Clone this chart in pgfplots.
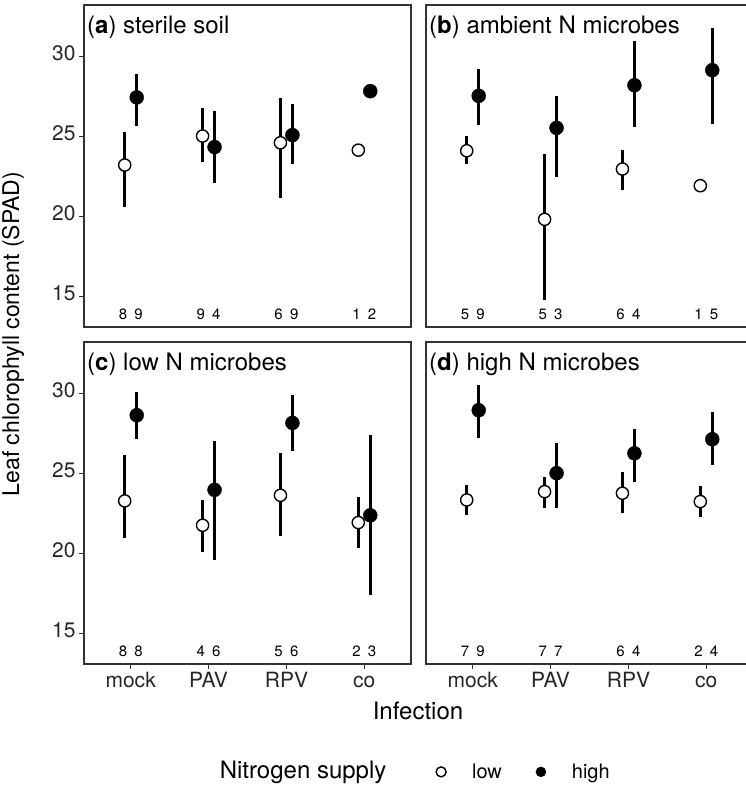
\documentclass[border=0pt]{standalone}
\usepackage{fontspec}
\setmainfont{TeX Gyre Heros}
\usepackage{pgfplots}
\usepackage{pgfplotstable}
\pgfplotsset{compat=1.18}
\definecolor{frame}{gray}{0.2}
\newcommand\fs[1]{\fontsize{#1}{#1}\selectfont}

% columns: x = infection (1 mock, 2 PAV, 3 RPV, 4 co), y = mean, lo/hi = interval
\pgfplotstableread{
x y lo hi
1 23.21 20.57 25.25
2 25.02 23.42 26.74
3 24.60 21.13 27.40
4 24.14 24.14 24.14
}\Alow
\pgfplotstableread{
x y lo hi
1 27.43 25.64 28.92
2 24.33 22.11 26.57
3 25.08 23.25 26.99
4 27.82 27.82 27.82
}\Ahigh
\pgfplotstableread{
x y lo hi
1 24.10 23.27 25.02
2 19.82 14.80 23.89
3 22.96 21.65 24.14
4 21.92 21.92 21.92
}\Blow
\pgfplotstableread{
x y lo hi
1 27.53 25.70 29.19
2 25.53 22.48 27.53
3 28.19 25.60 30.95
4 29.13 25.76 31.76
}\Bhigh
\pgfplotstableread{
x y lo hi
1 23.28 20.99 26.13
2 21.76 20.12 23.32
3 23.63 21.09 26.24
4 21.93 20.32 23.55
}\Clow
\pgfplotstableread{
x y lo hi
1 28.63 27.17 30.10
2 23.97 19.58 27.02
3 28.15 26.40 29.90
4 22.38 17.39 27.38
}\Chigh
\pgfplotstableread{
x y lo hi
1 23.34 22.40 24.28
2 23.86 22.86 24.80
3 23.76 22.51 25.09
4 23.24 22.30 24.18
}\Dlow
\pgfplotstableread{
x y lo hi
1 28.94 27.19 30.52
2 25.01 22.86 26.88
3 26.25 24.49 27.80
4 27.13 25.52 28.86
}\Dhigh

\pgfplotsset{
  panel/.style={
    scale only axis, width=327pt, height=322pt, anchor=south west,
    xmin=0.4, xmax=4.6, ymin=13.1, ymax=33.2,
    xtick={1,2,3,4}, xticklabels={mock,PAV,RPV,co},
    ytick={15,20,25,30},
    axis line style={line width=1.4pt, color=frame},
    tick align=outside, major tick length=5pt,
    every tick/.style={line width=1.2pt, color=frame},
    xtick pos=bottom, ytick pos=left,
    ticklabel style={font=\fs{21}, text=black!85},
    typeset ticklabels with strut,
    /pgf/number format/assume math mode=true,
    clip=false,
  },
  lowpt/.style={only marks, mark=*, mark size=6.1pt,
    mark options={fill=white, draw=black, line width=1.4pt},
    error bars/.cd, y dir=both, y explicit, error mark=none,
    error bar style={line width=3pt, black}},
  highpt/.style={only marks, mark=*, mark size=7pt,
    mark options={fill=black, draw=black},
    error bars/.cd, y dir=both, y explicit, error mark=none,
    error bar style={line width=3pt, black}},
}
\tikzset{
  cnt/.style={font=\fs{15}, anchor=center, inner sep=0pt},
  ptitle/.style={anchor=north west, font=\fs{24}, inner sep=0pt},
}

\begin{document}
\begin{tikzpicture}
% (a)
\begin{axis}[panel, at={(84pt,466pt)}, xmajorticks=false]
  \addplot[lowpt] table[x expr=\thisrow{x}-0.077, y=y,
    y error plus expr=\thisrow{hi}-\thisrow{y},
    y error minus expr=\thisrow{y}-\thisrow{lo}] {\Alow};
  \addplot[highpt] table[x expr=\thisrow{x}+0.077, y=y,
    y error plus expr=\thisrow{hi}-\thisrow{y},
    y error minus expr=\thisrow{y}-\thisrow{lo}] {\Ahigh};
  \node[ptitle] at ([shift={(3pt,-11pt)}]rel axis cs:0,1) {(\textbf{a}) sterile soil};
  \node[cnt] at (axis cs:0.9,13.88) {8}; \node[cnt] at (axis cs:1.1,13.88) {9};
  \node[cnt] at (axis cs:1.9,13.88) {9}; \node[cnt] at (axis cs:2.1,13.88) {4};
  \node[cnt] at (axis cs:2.9,13.88) {6}; \node[cnt] at (axis cs:3.1,13.88) {9};
  \node[cnt] at (axis cs:3.9,13.88) {1}; \node[cnt] at (axis cs:4.1,13.88) {2};
\end{axis}
% (b)
\begin{axis}[panel, at={(426pt,466pt)}, xmajorticks=false, ymajorticks=false]
  \addplot[lowpt] table[x expr=\thisrow{x}-0.077, y=y,
    y error plus expr=\thisrow{hi}-\thisrow{y},
    y error minus expr=\thisrow{y}-\thisrow{lo}] {\Blow};
  \addplot[highpt] table[x expr=\thisrow{x}+0.077, y=y,
    y error plus expr=\thisrow{hi}-\thisrow{y},
    y error minus expr=\thisrow{y}-\thisrow{lo}] {\Bhigh};
  \node[ptitle] at ([shift={(3pt,-11pt)}]rel axis cs:0,1) {(\textbf{b}) ambient N microbes};
  \node[cnt] at (axis cs:0.9,13.88) {5}; \node[cnt] at (axis cs:1.1,13.88) {9};
  \node[cnt] at (axis cs:1.9,13.88) {5}; \node[cnt] at (axis cs:2.1,13.88) {3};
  \node[cnt] at (axis cs:2.9,13.88) {6}; \node[cnt] at (axis cs:3.1,13.88) {4};
  \node[cnt] at (axis cs:3.9,13.88) {1}; \node[cnt] at (axis cs:4.1,13.88) {5};
\end{axis}
% (c)
\begin{axis}[panel, at={(84pt,129pt)},
  legend style={at={(1.067,-0.335)}, anchor=west, draw=none, fill=none,
    font=\fs{20}, legend columns=-1,
    /tikz/every odd column/.append style={column sep=24pt},
    /tikz/every even column/.append style={column sep=32pt}},
  legend image post style={mark size=5pt},
  legend image code/.code={\draw[mark repeat=2, mark phase=2, #1]
    plot coordinates {(0pt,0pt) (7pt,0pt) (14pt,0pt)};},
]
  \addplot[lowpt] table[x expr=\thisrow{x}-0.077, y=y,
    y error plus expr=\thisrow{hi}-\thisrow{y},
    y error minus expr=\thisrow{y}-\thisrow{lo}] {\Clow};
  \addlegendentry{low}
  \addplot[highpt] table[x expr=\thisrow{x}+0.077, y=y,
    y error plus expr=\thisrow{hi}-\thisrow{y},
    y error minus expr=\thisrow{y}-\thisrow{lo}] {\Chigh};
  \addlegendentry{high}
  \node[ptitle] at ([shift={(3pt,-11pt)}]rel axis cs:0,1) {(\textbf{c}) low N microbes};
  \node[cnt] at (axis cs:0.9,13.88) {8}; \node[cnt] at (axis cs:1.1,13.88) {8};
  \node[cnt] at (axis cs:1.9,13.88) {4}; \node[cnt] at (axis cs:2.1,13.88) {6};
  \node[cnt] at (axis cs:2.9,13.88) {5}; \node[cnt] at (axis cs:3.1,13.88) {6};
  \node[cnt] at (axis cs:3.9,13.88) {2}; \node[cnt] at (axis cs:4.1,13.88) {3};
\end{axis}
% (d)
\begin{axis}[panel, at={(426pt,129pt)}, ymajorticks=false]
  \addplot[lowpt] table[x expr=\thisrow{x}-0.077, y=y,
    y error plus expr=\thisrow{hi}-\thisrow{y},
    y error minus expr=\thisrow{y}-\thisrow{lo}] {\Dlow};
  \addplot[highpt] table[x expr=\thisrow{x}+0.077, y=y,
    y error plus expr=\thisrow{hi}-\thisrow{y},
    y error minus expr=\thisrow{y}-\thisrow{lo}] {\Dhigh};
  \node[ptitle] at ([shift={(3pt,-11pt)}]rel axis cs:0,1) {(\textbf{d}) high N microbes};
  \node[cnt] at (axis cs:0.9,13.88) {7}; \node[cnt] at (axis cs:1.1,13.88) {9};
  \node[cnt] at (axis cs:1.9,13.88) {7}; \node[cnt] at (axis cs:2.1,13.88) {7};
  \node[cnt] at (axis cs:2.9,13.88) {6}; \node[cnt] at (axis cs:3.1,13.88) {4};
  \node[cnt] at (axis cs:3.9,13.88) {2}; \node[cnt] at (axis cs:4.1,13.88) {4};
\end{axis}
% shared axis titles and legend title
\node[rotate=90, font=\fs{23}] at (13pt,459pt) {Leaf chlorophyll content (SPAD)};
\node[font=\fs{24}] at (418pt,82pt) {Infection};
\node[font=\fs{24}] at (303pt,21pt) {Nitrogen supply};
% the reference is cut at its right edge
\pgfresetboundingbox
\useasboundingbox (0pt,0pt) rectangle (746pt,793pt);
\end{tikzpicture}
\end{document}
